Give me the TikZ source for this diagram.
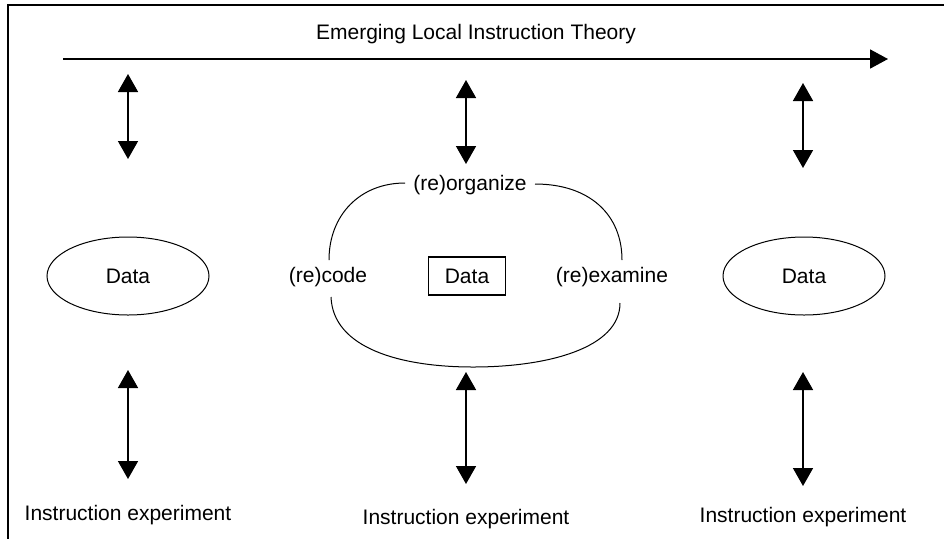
\documentclass[tikz,border=0pt]{standalone}
\usepackage{fontspec}
\setmainfont{Liberation Sans}
\usetikzlibrary{arrows.meta,shapes.geometric}
\begin{document}
\begin{tikzpicture}[x=1pt,y=-1pt,
  lbl/.style={font=\fontsize{21}{25}\selectfont, inner sep=0pt},
  dataell/.style={ellipse, draw, line width=1pt, minimum width=162pt, minimum height=78pt, inner sep=0pt, font=\fontsize{21}{25}\selectfont},
  databox/.style={rectangle, draw, line width=1.4pt, minimum width=77pt, minimum height=38pt, inner sep=0pt, font=\fontsize{21}{25}\selectfont},
  frameline/.style={line width=1.8pt},
  dblarrow/.style={line width=1.6pt, {Triangle[length=18pt,width=20pt]}-{Triangle[length=18pt,width=20pt]}},
  mainarrow/.style={line width=1.8pt, -{Triangle[length=18pt,width=19pt]}},
  loop/.style={line width=1pt}]
\useasboundingbox (0,0) rectangle (944,539);
% frame
\coordinate (fTR) at (944,5);
\coordinate (fTL) at (8,5);
\coordinate (fBL) at (8,539);
\draw[frameline] (fTR) -- (fTL) -- (fBL);
% title and main arrow
\node[lbl] (title) at (476,34) {Emerging Local Instruction Theory};
\coordinate (mS) at (63,59);
\coordinate (mE) at (888,59);
\draw[mainarrow] (mS) -- (mE);
% data nodes
\node[dataell] (dL) at (128,276) {Data};
\node[dataell] (dR) at (804,276) {Data};
\node[databox] (dM) at (467,276) {Data};
% loop labels
\node[lbl] (org) at (470,185) {(re)organize};
\node[lbl] (code) at (328,277) {(re)code};
\node[lbl] (exam) at (612,277) {(re)examine};
% loop curves
\coordinate (a1) at (329,260);
\coordinate (a2) at (405,183);
\coordinate (b1) at (535,184);
\coordinate (b2) at (622,260);
\coordinate (c1) at (331,297);
\coordinate (c2) at (473,367);
\coordinate (c3) at (620,303);
\draw[loop] (a1) .. controls (329,215) and (360,183) .. (a2);
\draw[loop] (b1) .. controls (590,184) and (622,215) .. (b2);
\draw[loop] (c1) .. controls (333,348) and (400,367) .. (c2) .. controls (548,367) and (620,348) .. (c3);
% upper double arrows
\coordinate (u1t) at (128,74);  \coordinate (u1b) at (128,159);
\coordinate (u2t) at (466,80);  \coordinate (u2b) at (466,164);
\coordinate (u3t) at (803,83);  \coordinate (u3b) at (803,168);
\draw[dblarrow] (u1t) -- (u1b);
\draw[dblarrow] (u2t) -- (u2b);
\draw[dblarrow] (u3t) -- (u3b);
% lower double arrows
\coordinate (l1t) at (128,370); \coordinate (l1b) at (128,479);
\coordinate (l2t) at (466,372); \coordinate (l2b) at (466,484);
\coordinate (l3t) at (803,372); \coordinate (l3b) at (803,486);
\draw[dblarrow] (l1t) -- (l1b);
\draw[dblarrow] (l2t) -- (l2b);
\draw[dblarrow] (l3t) -- (l3b);
% experiments
\node[lbl, anchor=base] (e1) at (128,520) {Instruction experiment};
\node[lbl, anchor=base] (e2) at (466,524) {Instruction experiment};
\node[lbl, anchor=base] (e3) at (803,522) {Instruction experiment};
\end{tikzpicture}
\end{document}
